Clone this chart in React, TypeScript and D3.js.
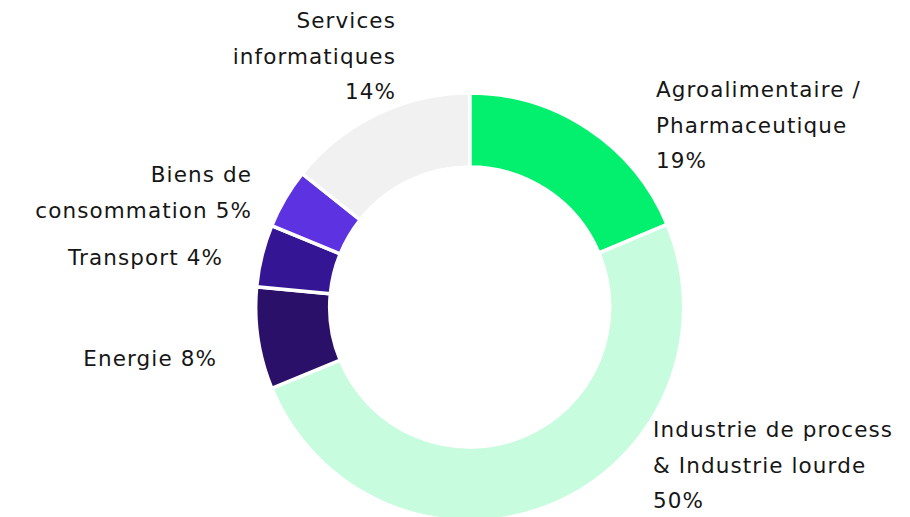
import { useEffect, useRef } from 'react';
import * as d3 from 'd3';

const categories = [
  'Agroalimentaire / Pharmaceutique',
  'Industrie de process & Industrie lourde',
  'Energie',
  'Transport',
  'Biens de consommation',
  'Services informatiques',
];
// slice sizes (percent)
const shares = [18.7, 50.1, 7.7, 4.7, 4.5, 14.3];
// percentages printed in the labels
const shareLabels = ['19%', '50%', '8%', '4%', '5%', '14%'];
const colors = ['#03f06f', '#c8fcdf', '#2a1068', '#341694', '#5d32e1', '#f1f1f1'];
// label text, line by line
const labelLines = [
  ['Agroalimentaire /', 'Pharmaceutique', '19%'],
  ['Industrie de process', '& Industrie lourde', '50%'],
  ['Energie 8%'],
  ['Transport 4%'],
  ['Biens de', 'consommation 5%'],
  ['Services', 'informatiques', '14%'],
];

const W = 910;
const H = 517;

export default function App() {
  const svgRef = useRef<SVGSVGElement>(null);

  useEffect(() => {
    const svg = d3.select(svgRef.current);
    svg.selectAll('*').remove();
    svg.attr('width', W).attr('height', H);

    const cx = 469.7, cy = 307;
    const outerR = 214, innerR = 140;

    const data = categories.map((c, i) => ({
      name: c, value: shares[i], label: shareLabels[i], color: colors[i], lines: labelLines[i],
    }));

    const pie = d3.pie<any>().value(d => d.value).sort(null);
    const arc = d3.arc<any>().innerRadius(innerR).outerRadius(outerR);

    const g = svg.append('g').attr('transform', `translate(${cx},${cy})`);

    g.selectAll('path')
      .data(pie(data))
      .enter()
      .append('path')
      .attr('d', arc)
      .attr('fill', d => d.data.color)
      .attr('stroke', '#fff')
      .attr('stroke-width', 3.5);

    // label placement (anchor x, first baseline y, alignment)
    const labelPos: Record<string, [number, number, string]> = {
      'Agroalimentaire / Pharmaceutique': [656, 97, 'start'],
      'Industrie de process & Industrie lourde': [653, 437, 'start'],
      'Energie': [217, 366, 'end'],
      'Transport': [223, 265, 'end'],
      'Biens de consommation': [252, 182, 'end'],
      'Services informatiques': [396, 28, 'end'],
    };
    const lineH = 35.5;

    data.forEach(d => {
      const [x, y, anchor] = labelPos[d.name];
      const t = svg.append('text')
        .attr('x', x)
        .attr('y', y)
        .attr('text-anchor', anchor)
        .attr('font-family', '"DejaVu Sans", sans-serif')
        .attr('font-size', '21.5px')
        .attr('letter-spacing', '1.1px')
        .attr('fill', '#161616');
      d.lines.forEach((ln, i) => {
        t.append('tspan').attr('x', x).attr('y', y + i * lineH).text(ln);
      });
    });
  }, []);

  return (
    <svg ref={svgRef} style={{ position: 'absolute', left: 0, top: 0, display: 'block', background: '#fff' }}></svg>
  );
}
